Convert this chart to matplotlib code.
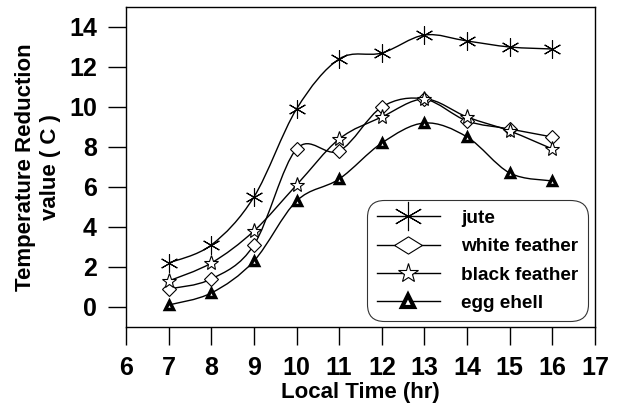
import numpy as np
import matplotlib
matplotlib.use("Agg")
import matplotlib.pyplot as plt
from matplotlib.path import Path
from matplotlib.patches import PathPatch

hours = [7, 8, 9, 10, 11, 12, 13, 14, 15, 16]
jute = [2.2, 3.1, 5.5, 9.9, 12.4, 12.7, 13.6, 13.3, 13.0, 12.9]
white_feather = [0.9, 1.4, 3.1, 7.9, 7.8, 10.0, 10.4, 9.3, 8.9, 8.5]
black_feather = [1.3, 2.2, 3.8, 6.1, 8.4, 9.5, 10.4, 9.5, 8.8, 7.9]
egg_ehell = [0.1, 0.7, 2.3, 5.3, 6.4, 8.2, 9.2, 8.5, 6.7, 6.3]
labels = ["jute", "white feather", "black feather", "egg ehell"]
xticks = [6, 7, 8, 9, 10, 11, 12, 13, 14, 15, 16, 17]
yticks = [0, 2, 4, 6, 8, 10, 12, 14]

plt.rcParams['font.family'] = ['Liberation Sans', 'DejaVu Sans']
plt.rcParams['font.weight'] = 'bold'

fig = plt.figure(figsize=(6.36, 4.09), dpi=100)
ax = fig.add_axes([126/636, 1 - 327/409, (595-126)/636, (327-7)/409])


def smooth_path(x, y):
    # Catmull-Rom style cubic Bezier segments through the data points
    x = np.asarray(x, float)
    y = np.asarray(y, float)
    n = len(x)
    verts = [(x[0], y[0])]
    codes = [Path.MOVETO]
    for i in range(n - 1):
        p0 = (x[i-1], y[i-1]) if i > 0 else (x[i], y[i])
        p1 = (x[i], y[i])
        p2 = (x[i+1], y[i+1])
        p3 = (x[i+2], y[i+2]) if i + 2 < n else (x[i+1], y[i+1])
        c1 = (p1[0] + (p2[0]-p0[0])/6, p1[1] + (p2[1]-p0[1])/6)
        c2 = (p2[0] - (p3[0]-p1[0])/6, p2[1] - (p3[1]-p1[1])/6)
        verts += [c1, c2, p2]
        codes += [Path.CURVE4] * 3
    return Path(verts, codes)


flat_diamond = [(-1, 0), (0, 0.62), (1, 0), (0, -0.62), (-1, 0)]

series = [jute, white_feather, black_feather, egg_ehell]
styles = [
    dict(marker=(6, 2, 0), markersize=13, markeredgewidth=0.8, markerfacecolor='none'),
    dict(marker='D', markersize=7, markeredgewidth=0.8, markerfacecolor='white'),
    dict(marker='*', markersize=11, markeredgewidth=0.8, markerfacecolor='white'),
    dict(marker='^', markersize=6, markeredgewidth=2.5, markerfacecolor='white'),
]
leg_styles = [
    dict(marker=(6, 2, 0), markersize=21, markeredgewidth=0.8, markerfacecolor='none'),
    dict(marker=flat_diamond, markersize=20, markeredgewidth=0.8, markerfacecolor='white'),
    dict(marker='*', markersize=15, markeredgewidth=0.8, markerfacecolor='white'),
    dict(marker='^', markersize=9, markeredgewidth=3.0, markerfacecolor='white'),
]
handles = []
for vals, st, lst, lab in zip(series, styles, leg_styles, labels):
    ax.add_patch(PathPatch(smooth_path(hours, vals), facecolor='none',
                           edgecolor='black', linewidth=1.0, zorder=2))
    ax.plot(hours, vals, linestyle='none', color='black', markeredgecolor='black',
            zorder=3, **st)
    h, = ax.plot([], [], linestyle='-', color='black', linewidth=1.0,
                 markeredgecolor='black', label=lab, **lst)
    handles.append(h)

ax.set_xlim(6, 17)
ax.set_ylim(-1, 15)
ax.set_xticks(xticks)
ax.set_yticks(yticks)
ax.tick_params(axis='both', direction='out', length=13, width=1, labelsize=18)
ax.tick_params(axis='x', pad=8)
ax.tick_params(axis='y', pad=8)
for lbl in ax.get_xticklabels() + ax.get_yticklabels():
    lbl.set_fontweight('bold')
for s in ax.spines.values():
    s.set_linewidth(1)

ax.set_xlabel('Local Time (hr)', fontsize=16, fontweight='bold', labelpad=1)
ax.set_ylabel('Temperature Reduction\nvalue ( C )', fontsize=16, fontweight='bold',
              labelpad=6, linespacing=1.2)

leg = ax.legend(handles=handles, loc='upper left',
                bbox_to_anchor=((367-126)/469, (327-200)/320),
                borderaxespad=0, frameon=True, fancybox=True, handlelength=3.35,
                handletextpad=1.08, labelspacing=0.58, borderpad=0.5,
                prop={'weight': 'bold', 'size': 13.7})
leg.get_frame().set_edgecolor('black')
leg.get_frame().set_linewidth(0.8)
leg.get_frame().set_boxstyle('round,pad=0,rounding_size=0.9')

fig.savefig('out.png', dpi=100)
